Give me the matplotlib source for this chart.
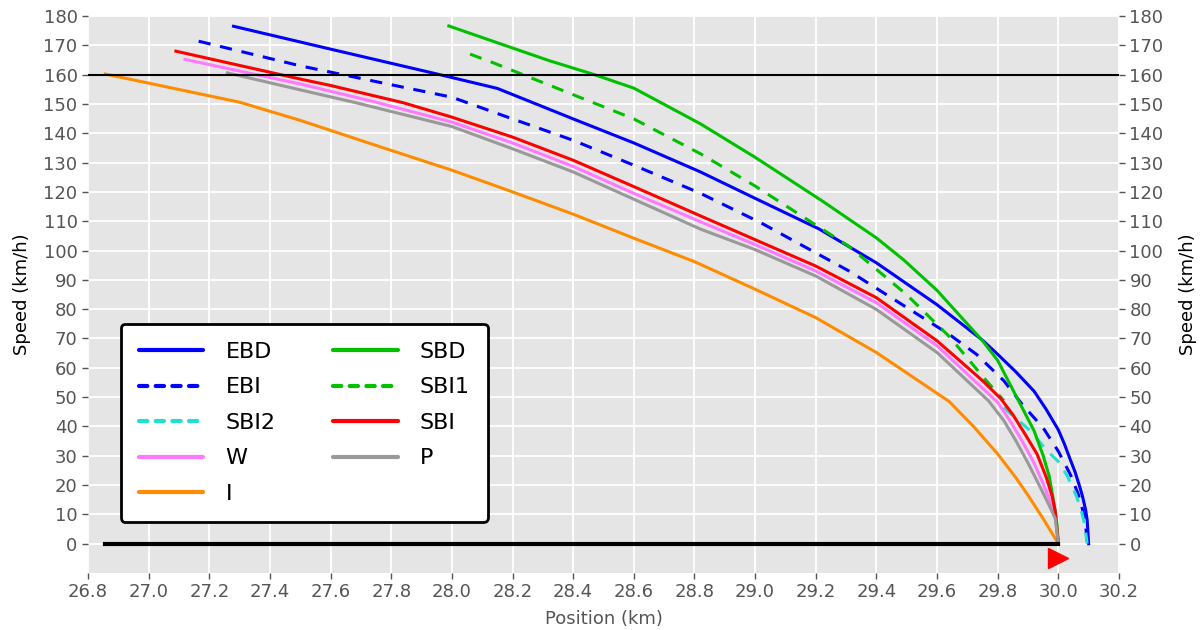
import matplotlib
matplotlib.use("Agg")
import matplotlib.pyplot as plt
import numpy as np

# braking curves (position in km, speed in km/h)
ebd_x = [27.28, 27.6, 27.96, 28.15, 28.4, 28.6, 28.82, 29.0, 29.21, 29.4, 29.6, 29.75, 29.8, 29.86, 29.92, 29.96, 30.0, 30.02, 30.04, 30.055, 30.07, 30.08, 30.09, 30.095, 30.1]
ebd_v = [176.5, 168.7, 160.0, 155.3, 144.9, 136.7, 126.8, 117.8, 107.4, 95.8, 81.5, 69.4, 64.6, 58.6, 52.0, 45.8, 38.8, 34.0, 28.5, 24.5, 19.6, 16.0, 11.5, 8.0, 0.0]

ebi_x = [27.165, 27.5, 27.64, 27.76, 28.0, 28.2, 28.4, 28.6, 28.82, 29.02, 29.17, 29.31, 29.44, 29.64, 29.73, 29.82, 29.88, 29.95, 30.0, 30.04, 30.065, 30.08, 30.09, 30.095]
ebi_v = [171.4, 163.0, 160.0, 157.4, 152.3, 144.9, 137.6, 129.1, 119.5, 109.4, 100.9, 93.0, 84.5, 71.4, 64.6, 55.6, 47.6, 39.5, 31.5, 23.5, 17.0, 11.6, 6.5, 0.0]

sbi2_x = [29.82, 29.84, 29.91, 29.96, 30.0, 30.03, 30.06, 30.075, 30.087, 30.095]
sbi2_v = [46.5, 44.6, 38.3, 32.0, 28.0, 23.0, 16.1, 11.5, 6.5, 0.0]

w_x = [27.12, 27.5, 27.75, 28.0, 28.2, 28.4, 28.6, 28.82, 29.0, 29.2, 29.4, 29.6, 29.8, 29.84, 29.88, 29.92, 29.95, 29.975, 29.99, 30.0]
w_v = [165.2, 156.8, 150.6, 143.8, 136.7, 128.7, 119.5, 109.8, 102.0, 93.0, 82.2, 67.5, 48.2, 42.0, 35.1, 27.5, 20.4, 14.0, 9.0, 0.0]

i_x = [26.857, 27.3, 27.5, 27.76, 28.0, 28.2, 28.4, 28.6, 28.8, 29.0, 29.2, 29.4, 29.64, 29.72, 29.8, 29.86, 29.9, 29.95, 30.0]
i_v = [160.2, 150.6, 144.4, 135.5, 127.4, 120.0, 112.4, 104.2, 96.2, 86.8, 77.1, 65.2, 48.5, 40.0, 30.6, 22.5, 16.5, 8.5, 0.0]

sbd_x = [27.99, 28.32, 28.47, 28.6, 28.82, 29.0, 29.22, 29.4, 29.49, 29.6, 29.75, 29.8, 29.88, 29.92, 29.95, 29.97, 29.985, 29.995, 30.0]
sbd_v = [176.6, 164.8, 160.0, 155.4, 143.2, 131.8, 117.0, 104.3, 96.8, 86.4, 69.2, 62.5, 46.5, 38.5, 30.0, 23.0, 14.0, 7.0, 0.0]

sbi1_x = [28.06, 28.14, 28.6, 28.82, 29.0, 29.14, 29.31, 29.5, 29.64, 29.76, 29.82]
sbi1_v = [167.0, 163.9, 144.9, 133.0, 122.0, 112.7, 101.4, 84.9, 70.7, 55.9, 48.8]

sbi_x = [27.09, 27.5, 27.6, 27.84, 28.0, 28.2, 28.4, 28.6, 28.82, 29.0, 29.2, 29.4, 29.6, 29.75, 29.81, 29.85, 29.89, 29.93, 29.96, 29.98, 29.99, 30.0]
sbi_v = [168.0, 158.5, 156.3, 150.4, 145.5, 138.7, 130.8, 121.8, 111.8, 103.7, 94.7, 83.9, 69.2, 55.6, 49.5, 44.0, 37.4, 30.5, 22.7, 16.0, 11.0, 0.0]

p_x = [27.26, 27.5, 27.68, 28.0, 28.2, 28.4, 28.6, 28.82, 29.0, 29.2, 29.4, 29.6, 29.77, 29.82, 29.86, 29.9, 29.94, 29.97, 29.99, 30.0]
p_v = [160.6, 154.8, 150.5, 142.3, 134.7, 126.8, 117.5, 107.3, 100.3, 91.3, 79.9, 65.2, 48.7, 42.0, 35.1, 27.5, 19.3, 13.0, 8.5, 0.0]

standstill_x = [26.857, 30.0]
standstill_v = [0.0, 0.0]
ceiling_speed = 160
eoa_x = 30.0
eoa_v = -5

DASH = (4, 3.2)


def draw_curves(ax):
    ax.plot(ebd_x, ebd_v, color='#0000ff', lw=2.2, label='EBD')
    ax.plot(ebi_x, ebi_v, color='#0000ff', lw=2.2, dashes=DASH, label='EBI')
    ax.plot(sbi2_x, sbi2_v, color='#20e0d0', lw=2.2, dashes=DASH, label='SBI2')
    ax.plot(w_x, w_v, color='#ff78ff', lw=2.2, label='W')
    ax.plot(i_x, i_v, color='#ff8c00', lw=2.2, label='I')
    ax.plot(sbd_x, sbd_v, color='#00c000', lw=2.2, label='SBD')
    ax.plot(sbi1_x, sbi1_v, color='#00c000', lw=2.2, dashes=DASH, label='SBI1')
    ax.plot(sbi_x, sbi_v, color='#ff0000', lw=2.2, label='SBI')
    ax.plot(p_x, p_v, color='#999999', lw=2.2, label='P')


def main():
    plt.rcParams['font.family'] = ['DejaVu Sans']
    fig = plt.figure(figsize=(12, 6.3), dpi=100)
    ax = fig.add_axes([0.0733, 0.0905, 0.8592, 0.8841])
    ax.set_facecolor('#e5e5e5')
    for s in ax.spines.values():
        s.set_visible(False)
    ax.grid(True, color='white', lw=1.3)
    ax.set_axisbelow(True)

    draw_curves(ax)
    ax.plot(standstill_x, standstill_v, color='black', lw=3)
    ax.axhline(ceiling_speed, color='black', lw=1.5)
    ax.plot([eoa_x], [eoa_v], marker='>', color='#ff0000', markersize=14, ls='none')

    xt = np.round(np.arange(26.8, 30.21, 0.2), 1)
    yt = np.arange(0, 181, 10)
    ax.set_xlim(26.8, 30.2)
    ax.set_ylim(-10, 180)
    ax.set_xticks(xt)
    ax.set_xticklabels([f"{v:.1f}" for v in xt])
    ax.set_yticks(yt)
    ax.tick_params(colors='#555555', labelsize=13, length=4, width=1)
    ax.set_xlabel('Position (km)', fontsize=13, color='#555555', labelpad=6)
    ax.set_ylabel('Speed (km/h)', fontsize=13, labelpad=9)

    ax2 = ax.twinx()
    for s in ax2.spines.values():
        s.set_visible(False)
    ax2.set_ylim(-10, 180)
    ax2.set_yticks(yt)
    ax2.tick_params(colors='#555555', labelsize=13, length=4, width=1)
    ax2.set_ylabel('Speed (km/h)', fontsize=13, labelpad=11)

    leg = ax.legend(ncol=2, loc='lower left', bbox_to_anchor=(0.032, 0.092), borderaxespad=0,
                    fontsize=16, handlelength=2.9, handletextpad=1.0, columnspacing=2.6,
                    labelspacing=0.7, borderpad=0.8, fancybox=True, framealpha=1)
    leg.get_frame().set_edgecolor('black')
    leg.get_frame().set_linewidth(2)
    for h in leg.get_lines():
        h.set_linewidth(3)
        h.set_solid_capstyle('round')
        if h.get_linestyle() != '-':
            h.set_dashes((2.0, 2.0))
            h.set_dash_capstyle('round')

    fig.savefig('out.png', dpi=100)


if __name__ == '__main__':
    main()
